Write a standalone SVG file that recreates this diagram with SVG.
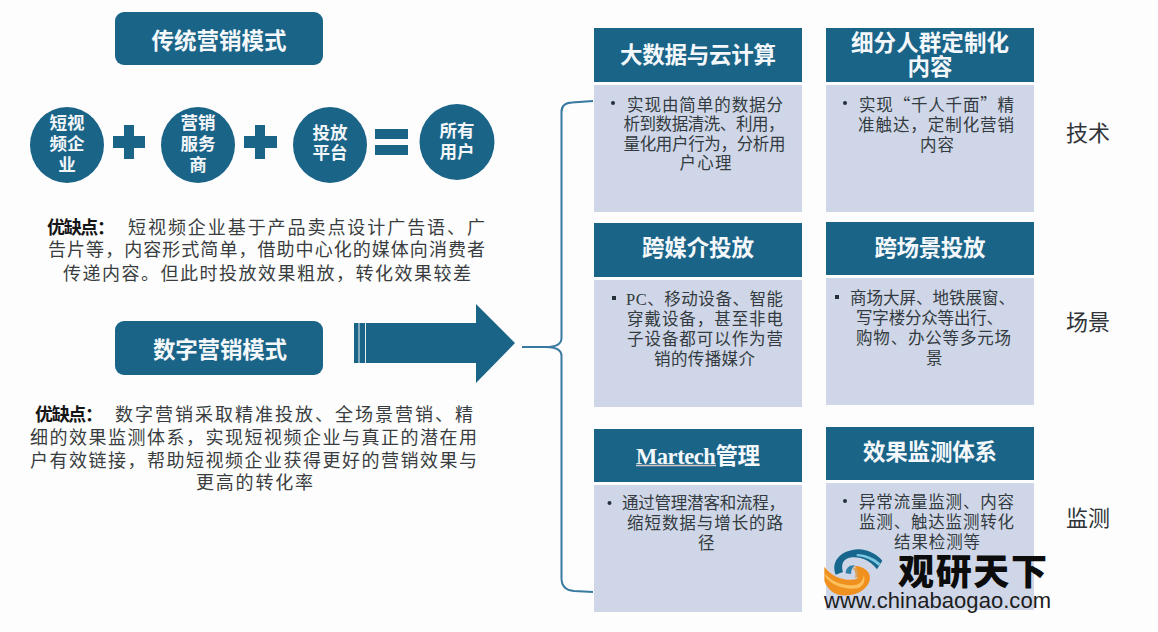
<svg xmlns="http://www.w3.org/2000/svg" width="1158" height="632" viewBox="0 0 1158 632">
<style>
text{font-family:"Noto Sans CJK SC","Noto Sans",sans-serif}
.dark{fill:#1a6488}
.body{fill:#cfd6e7}
.t{font-size:22.5px;font-weight:700;fill:#f4f8fb;text-anchor:middle}
.c{font-size:17.5px;font-weight:700;fill:#f2f6f9;text-anchor:middle}
.b{font-size:16.5px;fill:#333b40}
.p{font-size:18px;fill:#3a3d40}
.k{font-size:18px;font-weight:700;fill:#151515}
.l{font-size:22px;fill:#303438;text-anchor:middle}
.dot{fill:#26303a}
.latin{font-family:"Liberation Serif","Noto Sans CJK SC",serif}
</style>
<rect width="1158" height="632" fill="#fdfdfe"/>

<g id="connectors">
<path d="M522 347H546C554 347 561.500 345 561.500 338V112Q561.500 103 572 102.500L593 101M546 347C554 347 561.500 349 561.500 356V578Q561.500 590 574 591L593 592" fill="none" stroke="#37799f" stroke-width="2"/>
</g>

<g id="traditional-title"><rect class="dark" x="115" y="12" width="208" height="53" rx="9"/><text class="t" x="219" y="49" textLength="135">传统营销模式</text></g>
<g id="node-short-video"><ellipse class="dark" cx="67" cy="145" rx="37" ry="38"/><text class="c" x="67" y="129">短视</text><text class="c" x="67" y="150">频企</text><text class="c" x="67" y="171">业</text></g>
<g id="plus-1"><path class="dark" d="M124 125H134V136H145V148H134V159H124V148H113V136H124Z"/></g>
<g id="node-service"><ellipse class="dark" cx="198" cy="145" rx="37" ry="38"/><text class="c" x="198" y="129">营销</text><text class="c" x="198" y="150">服务</text><text class="c" x="198" y="171">商</text></g>
<g id="plus-2"><path class="dark" d="M255 125H265V136H277V148H265V159H255V148H244V136H255Z"/></g>
<g id="node-platform"><ellipse class="dark" cx="330" cy="145" rx="37" ry="38"/><text class="c" x="330" y="139">投放</text><text class="c" x="330" y="159">平台</text></g>
<g id="equals"><rect class="dark" x="375" y="129" width="33" height="10"/><rect class="dark" x="375" y="145" width="33" height="10"/></g>
<g id="node-users"><ellipse class="dark" cx="457" cy="142" rx="37.500" ry="38"/><text class="c" x="457" y="137">所有</text><text class="c" x="457" y="158">用户</text></g>

<g id="traditional-text">
<text class="k" x="47" y="234" textLength="68">优缺点：</text>
<text class="p" x="128" y="234" textLength="357">短视频企业基于产品卖点设计广告语、广</text>
<text class="p" x="48" y="256" textLength="437">告片等，内容形式简单，借助中心化的媒体向消费者</text>
<text class="p" x="63" y="280" textLength="408">传递内容。但此时投放效果粗放，转化效果较差</text>
</g>

<g id="digital-title"><rect class="dark" x="115" y="321" width="208" height="54" rx="9"/><text class="t" x="220" y="358" textLength="134">数字营销模式</text></g>
<g id="big-arrow">
<path class="dark" d="M354 323H476V304L515 343L476 383V363H354Z"/>
<path d="M359 323V363M365.500 323V363" stroke="#e8f0f5" stroke-width="1"/>
</g>
<g id="digital-text">
<text class="k" x="35" y="421" textLength="68">优缺点：</text>
<text class="p" x="115" y="421" textLength="358">数字营销采取精准投放、全场景营销、精</text>
<text class="p" x="30" y="444" textLength="447">细的效果监测体系，实现短视频企业与真正的潜在用</text>
<text class="p" x="30" y="467" textLength="447">户有效链接，帮助短视频企业获得更好的营销效果与</text>
<text class="p" x="196" y="489" textLength="117">更高的转化率</text>
</g>

<g id="card-bigdata">
<rect class="dark" x="594" y="28" width="208" height="54"/><rect class="body" x="594" y="85" width="208" height="127"/>
<text class="t" x="698" y="63" textLength="156">大数据与云计算</text>
<circle class="dot" cx="613" cy="103" r="2"/>
<text class="b" x="627" y="111" textLength="156">实现由简单的数据分</text>
<text class="b" x="623.500" y="130" textLength="161">析到数据清洗、利用，</text>
<text class="b" x="623.500" y="150" textLength="162">量化用户行为，分析用</text>
<text class="b" x="679.500" y="169" textLength="52">户心理</text>
</g>
<g id="card-segment">
<rect class="dark" x="826" y="28" width="208" height="54"/><rect class="body" x="826" y="85" width="208" height="127"/>
<text class="t" x="930" y="51" textLength="158">细分人群定制化</text><text class="t" x="930" y="75">内容</text>
<circle class="dot" cx="845" cy="103" r="2"/>
<text class="b" x="859" y="111" textLength="155">实现“千人千面”精</text>
<text class="b" x="858" y="131" textLength="156">准触达，定制化营销</text>
<text class="b" x="920" y="151" textLength="34">内容</text>
</g>
<g id="card-media">
<rect class="dark" x="594" y="223" width="208" height="54"/><rect class="body" x="594" y="280" width="208" height="127"/>
<text class="t" x="698" y="256" textLength="112">跨媒介投放</text>
<rect class="dot" x="612" y="296" width="4" height="4"/>
<text class="b" x="626" y="305" textLength="157"><tspan class="latin">PC</tspan>、移动设备、智能</text>
<text class="b" x="627" y="325" textLength="156">穿戴设备，甚至非电</text>
<text class="b" x="627" y="345" textLength="156">子设备都可以作为营</text>
<text class="b" x="654" y="365" textLength="101">销的传播媒介</text>
</g>
<g id="card-scene">
<rect class="dark" x="826" y="222" width="208" height="53"/><rect class="body" x="826" y="278" width="208" height="127"/>
<text class="t" x="930" y="256" textLength="111">跨场景投放</text>
<rect class="dot" x="835" y="295" width="4" height="4"/>
<text class="b" x="850" y="304" textLength="165">商场大屏、地铁展窗、</text>
<text class="b" x="856" y="324" textLength="147">写字楼分众等出行、</text>
<text class="b" x="856" y="344" textLength="155">购物、办公等多元场</text>
<text class="b" x="926" y="364">景</text>
</g>
<g id="card-martech">
<rect class="dark" x="594" y="429" width="208" height="53"/><rect class="body" x="594" y="485" width="208" height="127"/>
<text class="t" x="698" y="464" textLength="124"><tspan class="latin">Martech</tspan>管理</text>
<path d="M636 465.500H716" stroke="#d9c6c6" stroke-width="1.500"/>
<circle class="dot" cx="609.500" cy="503" r="2"/>
<text class="b" x="622" y="509" textLength="163">通过管理潜客和流程，</text>
<text class="b" x="627" y="529" textLength="156">缩短数据与增长的路</text>
<text class="b" x="698" y="549">径</text>
</g>
<g id="card-monitor">
<rect class="dark" x="826" y="427" width="208" height="53"/><rect class="body" x="826" y="483" width="208" height="127"/>
<text class="t" x="930" y="460" textLength="134">效果监测体系</text>
<circle class="dot" cx="845" cy="501" r="2"/>
<text class="b" x="859" y="508" textLength="155">异常流量监测、内容</text>
<text class="b" x="859" y="528" textLength="155">监测、触达监测转化</text>
<text class="b" x="894" y="548" textLength="86">结果检测等</text>
</g>

<g id="label-tech"><text class="l" x="1088" y="141">技术</text></g>
<g id="label-scene"><text class="l" x="1088" y="330">场景</text></g>
<g id="label-monitor"><text class="l" x="1088" y="526">监测</text></g>

<g id="watermark">
<g transform="translate(815 540) scale(.3333)">
<path d="M62 104C46 62 80 30 130 28C160 28 186 44 202 62L186 88C166 62 140 50 112 52C86 54 76 72 84 96Z" fill="#17668e"/>
<path d="M125 42C152 42 178 54 196 70L192 78C172 60 150 50 125 48Z" fill="#7cc8e0"/>
<path d="M92 100C92 84 104 74 120 76C112 82 108 92 108 102Z" fill="#2f7ea6"/>
<path d="M112 82C128 84 138 94 136 108L120 114C124 102 120 92 112 82Z" fill="#d9a15a"/>
<path d="M28 80C50 112 92 124 122 118C134 114 132 92 118 78C150 78 172 100 163 125C150 160 100 172 70 164C50 158 35 142 28 122Z" fill="#f0901e"/>
<path d="M30 100C50 128 90 140 124 134C138 130 146 118 146 104C152 118 148 136 130 144C96 152 52 138 32 112Z" fill="#fbc15e"/>
</g>
<text x="898" y="585" font-size="36" font-weight="900" fill="#0c0c0c" textLength="149">观研天下</text>
<text x="824" y="608" font-size="22" fill="#1c1c1c" textLength="227" style="font-family:'Liberation Sans',sans-serif">www.chinabaogao.com</text>
</g>
</svg>
